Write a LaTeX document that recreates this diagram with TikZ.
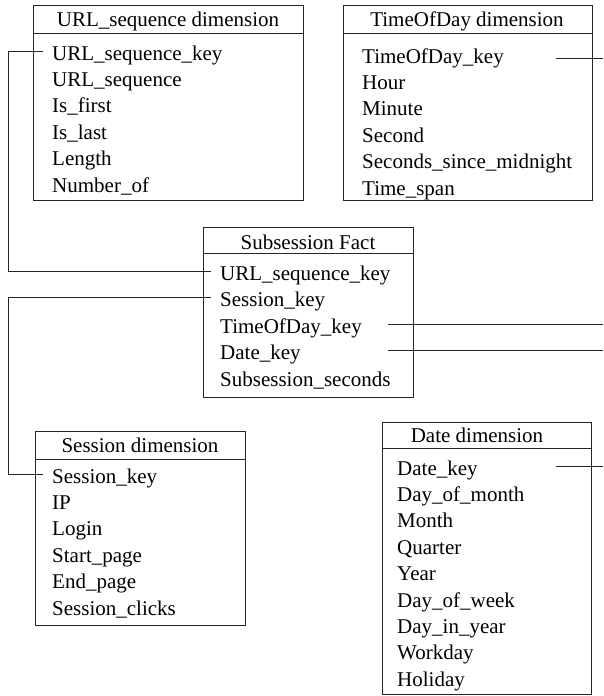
\documentclass[tikz,border=0pt]{standalone}
\usepackage{fontspec}
\setmainfont{Liberation Serif}
\begin{document}
\begin{tikzpicture}[x=1pt,y=-1pt,
  tbox/.style={draw=black!85, line width=0.75pt, inner sep=0pt, anchor=north west},
  ttitle/.style={anchor=base, inner sep=0pt},
  trow/.style={anchor=west, inner xsep=9pt, inner ysep=0pt, text height=18pt, text depth=0pt},
  conn/.style={draw=black!85, line width=0.75pt},
  hline/.style={draw=black!85, line width=0.75pt}]
\fontsize{21}{25}\selectfont
\useasboundingbox (0,0) rectangle (603,696);

% URL_sequence dimension
\node[tbox, minimum width=270pt, minimum height=195pt] (urlbox) at (33,5) {};
\draw[hline] (urlbox.north west) ++(0,28) -- ++(270,0);
\node[ttitle] (urltitle) at (168,27) {URL\_sequence dimension};
\foreach \t [count=\i] in {URL\_sequence\_key, URL\_sequence, Is\_first, Is\_last, Length, Number\_of}
  \node[trow] (url-\i) at (43,{51+26.4*(\i-1)}) {\t};

% TimeOfDay dimension
\node[tbox, minimum width=249pt, minimum height=195pt] (todbox) at (343,5) {};
\draw[hline] (todbox.north west) ++(0,28) -- ++(249,0);
\node[ttitle] (todtitle) at (467,27) {TimeOfDay dimension};
\foreach \t [count=\i] in {TimeOfDay\_key, Hour, Minute, Second, Seconds\_since\_midnight, Time\_span}
  \node[trow] (tod-\i) at (353,{54+26.4*(\i-1)}) {\t};

% Subsession Fact
\node[tbox, minimum width=210pt, minimum height=170pt] (factbox) at (203,227) {};
\draw[hline] (factbox.north west) ++(0,26) -- ++(210,0);
\node[ttitle] (facttitle) at (308,249) {Subsession Fact};
\foreach \t [count=\i] in {URL\_sequence\_key, Session\_key, TimeOfDay\_key, Date\_key, Subsession\_seconds}
  \node[trow] (fact-\i) at (211,{271+26.5*(\i-1)}) {\t};

% Session dimension
\node[tbox, minimum width=210pt, minimum height=194pt] (sesbox) at (35,431) {};
\draw[hline] (sesbox.north west) ++(0,28) -- ++(210,0);
\node[ttitle] (sestitle) at (140,452) {Session dimension};
\foreach \t [count=\i] in {Session\_key, IP, Login, Start\_page, End\_page, Session\_clicks}
  \node[trow] (ses-\i) at (43,{474+26.4*(\i-1)}) {\t};

% Date dimension
\node[tbox, minimum width=209pt, minimum height=272pt] (datebox) at (382,422) {};
\draw[hline] (datebox.north west) ++(0,26) -- ++(209,0);
\node[ttitle] (datetitle) at (477,442) {Date dimension};
\foreach \t [count=\i] in {Date\_key, Day\_of\_month, Month, Quarter, Year, Day\_of\_week, Day\_in\_year, Workday, Holiday}
  \node[trow] (date-\i) at (388,{466+26.4*(\i-1)}) {\t};

% connectors
\coordinate (lbus) at (8,0);
\coordinate (rx) at (603,0);
\coordinate (fx) at (388,0);
\coordinate (dx) at (556,0);
\draw[conn] (fact-1.west) -| (lbus |- url-1.west) -- (url-1.west);
\draw[conn] (fact-2.west) -| (lbus |- ses-1.west) -- (ses-1.west);
\draw[conn] (fx |- fact-3.west) -- (rx |- fact-3.west);
\draw[conn] (fx |- fact-4.west) -- (rx |- fact-4.west);
\draw[conn] ([yshift=-4pt]dx |- tod-1.west) -- ([yshift=-4pt]rx |- tod-1.west);
\draw[conn] (dx |- date-1.west) -- (rx |- date-1.west);
\end{tikzpicture}
\end{document}
